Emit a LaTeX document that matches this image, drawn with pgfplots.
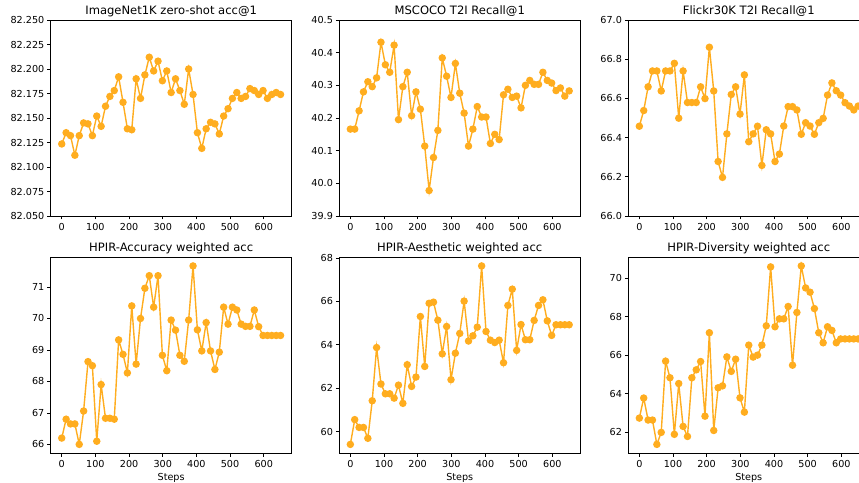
\documentclass[border=0pt]{standalone}
\usepackage{pgfplots}
\pgfplotsset{compat=1.18}
\usepackage{pgfplotstable}
\usepackage{fontspec}
\setmainfont{DejaVu Sans}
\definecolor{lineor}{HTML}{FFAD1F}

\pgfplotstableread{
step a b c d e f
0 82.1235 40.166 66.458 66.20 59.41 62.74
13 82.1350 40.166 66.538 66.80 60.55 63.78
26 82.1320 40.222 66.659 66.65 60.19 62.64
39 82.1120 40.280 66.740 66.65 60.19 62.64
52 82.1320 40.311 66.740 66.00 59.69 61.38
65 82.1450 40.296 66.638 67.06 61.42 62.00
78 82.1440 40.323 66.740 68.63 63.87 65.69
91 82.1320 40.432 66.740 68.50 62.19 64.83
104 82.1520 40.363 66.779 66.10 61.74 61.90
117 82.1415 40.340 66.499 67.90 61.74 64.53
130 82.1620 40.423 66.740 66.83 61.54 62.31
143 82.1720 40.195 66.579 66.83 62.14 61.79
156 82.1780 40.296 66.579 66.80 61.30 64.83
169 82.1920 40.340 66.579 69.32 63.08 65.24
182 82.1660 40.207 66.659 68.86 62.08 65.67
195 82.1390 40.280 66.599 68.27 62.51 62.84
208 82.1380 40.227 66.861 70.40 65.30 67.16
221 82.1900 40.114 66.638 68.55 63.00 62.10
234 82.1700 39.978 66.278 70.00 65.91 64.31
247 82.1940 40.079 66.197 70.96 65.96 64.41
260 82.2120 40.162 66.419 71.36 65.13 65.91
273 82.1980 40.384 66.620 70.36 63.58 65.16
286 82.2080 40.328 66.659 71.36 64.84 65.79
299 82.1880 40.263 66.520 68.83 62.39 63.79
312 82.1980 40.367 66.720 68.34 63.61 63.05
325 82.1760 40.276 66.379 69.95 64.52 66.52
338 82.1900 40.215 66.419 69.63 66.01 65.90
351 82.1780 40.114 66.458 68.83 64.17 66.00
364 82.1640 40.166 66.258 68.64 64.41 66.52
377 82.2000 40.235 66.440 69.95 64.81 67.52
390 82.1740 40.203 66.419 71.67 67.63 70.57
403 82.1350 40.203 66.278 69.64 64.61 67.47
416 82.1190 40.122 66.316 68.97 64.21 67.88
429 82.1390 40.150 66.459 69.87 64.10 67.88
442 82.1456 40.134 66.558 68.97 64.21 68.52
455 82.1440 40.271 66.558 68.38 63.17 65.48
468 82.1337 40.288 66.541 68.93 65.81 68.21
481 82.1520 40.263 66.417 70.36 66.56 70.62
494 82.1595 40.267 66.476 69.82 63.74 69.48
507 82.1700 40.231 66.459 70.36 64.93 69.26
520 82.1760 40.300 66.417 70.27 64.23 68.41
533 82.1700 40.315 66.476 69.82 64.23 67.16
546 82.1720 40.303 66.498 69.75 65.12 66.64
559 82.1800 40.303 66.617 69.75 65.81 67.47
572 82.1780 40.340 66.679 70.27 66.07 67.28
585 82.1740 40.315 66.639 69.74 65.10 66.64
598 82.1780 40.307 66.617 69.46 64.43 66.84
611 82.1700 40.284 66.578 69.46 64.92 66.84
624 82.1740 40.292 66.561 69.46 64.92 66.84
637 82.1760 40.267 66.541 69.46 64.92 66.84
650 82.1740 40.283 66.561 69.46 64.92 66.84
}\data

\pgfplotsset{
  myax/.style={
    scale only axis, width=240.7bp, height=196bp,
    anchor=south west,
    xmin=-32.5, xmax=682.5,
    xtick={0,100,200,300,400,500,600},
    tick align=outside, xtick pos=bottom, ytick pos=left,
    major tick length=3.5bp,
    tick style={line width=0.75bp, black},
    axis line style={line width=0.75bp, black},
    every tick label/.append style={font=\fontsize{9.63bp}{11bp}\selectfont, inner sep=0pt},
    xticklabel style={anchor=base, yshift=-10.9bp},
    yticklabel style={anchor=east, xshift=-2.8bp},
    /pgf/number format/assume math mode=true,
    every axis title shift=0pt,
    title style={font=\fontsize{11.56bp}{13bp}\selectfont, at={(axis description cs:0.5,1)}, anchor=base, yshift=5.8bp, inner sep=0pt},
    xlabel style={font=\fontsize{9.63bp}{11bp}\selectfont, at={(axis description cs:0.5,0)}, anchor=base, yshift=-27.6bp, inner sep=0pt},
  },
  myplot/.style={color=lineor, line width=1.4bp, mark=*, mark size=3bp, mark options={fill=lineor, draw=none}},
}

\begin{document}
\begin{tikzpicture}
\useasboundingbox (0,0) rectangle (859bp,483bp);
\clip (0,0) rectangle (859bp,483bp);

\begin{axis}[myax, at={(50.8bp,267bp)}, title={ImageNet1K zero-shot acc@1},
  ymin=82.05, ymax=82.25, ytick={82.05,82.075,...,82.26},
  yticklabel style={/pgf/number format/.cd, fixed, fixed zerofill, precision=3}]
\addplot[myplot] table[x=step, y=a] {\data};
\end{axis}

\begin{axis}[myax, at={(339.4bp,267bp)}, title={MSCOCO T2I Recall@1},
  ymin=39.9, ymax=40.5, ytick={39.9,40.0,40.1,40.2,40.3,40.4,40.5},
  yticklabel style={/pgf/number format/.cd, fixed, fixed zerofill, precision=1}]
\addplot[myplot] table[x=step, y=b] {\data};
\end{axis}

\begin{axis}[myax, at={(628.4bp,267bp)}, title={Flickr30K T2I Recall@1},
  ymin=66.0, ymax=67.0, ytick={66.0,66.2,66.4,66.6,66.8,67.0},
  yticklabel style={/pgf/number format/.cd, fixed, fixed zerofill, precision=1}]
\addplot[myplot] table[x=step, y=c] {\data};
\end{axis}

\begin{axis}[myax, at={(50.8bp,29.7bp)}, height=196.3bp, title={HPIR-Accuracy weighted acc}, xlabel={Steps},
  ymin=65.7165, ymax=71.9535, ytick={66,67,68,69,70,71}]
\addplot[myplot] table[x=step, y=d] {\data};
\end{axis}

\begin{axis}[myax, at={(339.4bp,29.7bp)}, height=196.3bp, title={HPIR-Aesthetic weighted acc}, xlabel={Steps},
  ymin=58.999, ymax=68.041, ytick={60,62,64,66,68}]
\addplot[myplot] table[x=step, y=e] {\data};
\end{axis}

\begin{axis}[myax, at={(628.4bp,29.7bp)}, height=196.3bp, title={HPIR-Diversity weighted acc}, xlabel={Steps},
  ymin=60.918, ymax=71.082, ytick={62,64,66,68,70}]
\addplot[myplot] table[x=step, y=f] {\data};
\end{axis}
\end{tikzpicture}
\end{document}
